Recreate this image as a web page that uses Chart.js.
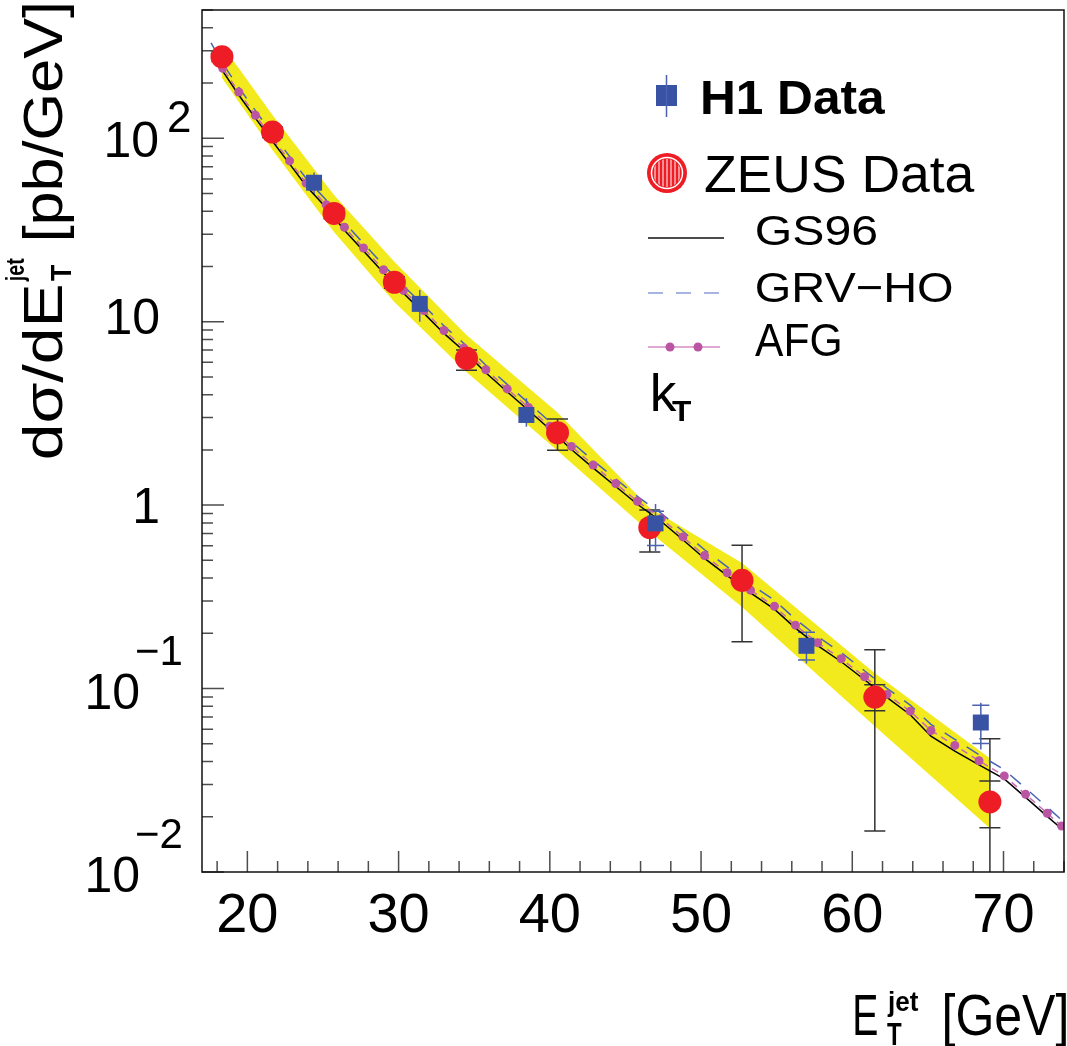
<!DOCTYPE html>
<html>
<head>
<meta charset="utf-8">
<script src="https://cdn.jsdelivr.net/npm/chart.js@4.4.1/dist/chart.umd.min.js"></script>
<style>
  body { margin: 0; background: #fff; }
  #wrap { width: 1067px; height: 1046px; }
</style>
</head>
<body>
<div id="wrap"><canvas id="chart" width="1067" height="1046"></canvas></div>
<script>
const FONT = '"Liberation Sans", Arial, sans-serif';

// ZEUS data (E_T^jet in GeV, dsigma/dE_T in pb/GeV)
const zeusEt = [18.32, 21.66, 25.73, 29.72, 34.49, 40.51, 46.61, 52.71, 61.49, 69.10];
const zeusXs = [278, 108, 38.9, 16.4, 6.31, 2.48, 0.755, 0.389, 0.0899, 0.0241];
const zeusHi = [295, 115, 41.5, 17.6, 7.0, 2.95, 0.94, 0.604, 0.163, 0.0532];
const zeusLo = [262, 101, 36.4, 15.2, 5.44, 1.99, 0.556, 0.1797, 0.01675, 0.004];
const zeusStatHi = [null, null, null, null, null, null, null, null, 0.1048, 0.0313];
const zeusStatLo = [null, null, null, null, null, null, null, null, 0.0756, 0.0174];

// H1 data
const h1Et = [24.41, 31.40, 38.45, 46.99, 56.97, 68.50];
const h1Xs = [57.2, 12.5, 3.10, 0.795, 0.171, 0.0653];
const h1Hi = [65.1, 14.9, 3.82, 1.015, 0.204, 0.0836];
const h1Lo = [49.0, 9.98, 2.67, 0.553, 0.137, 0.0466];
const h1StatHi = [null, null, null, 0.926, 0.203, 0.0811];
const h1StatLo = [null, null, null, 0.603, 0.143, 0.0501];

// yellow uncertainty band, at the ZEUS points
const bandHi = [322, 134, 49.0, 21.2, 8.45, 3.20, 0.963, 0.483, 0.1213, 0.0417];
const bandLo = [213, 86.3, 30.8, 12.8, 5.31, 1.98, 0.713, 0.278, 0.0624, 0.0173];

// kT theory curves
const theoryEt = [17.6, 18.37, 19.43, 20.53, 21.66, 22.79, 23.89, 25.21, 26.42, 27.68,
  29.0, 30.32, 31.68, 33.0, 34.32, 35.77, 37.18, 38.6, 40.0, 41.43,
  42.86, 44.36, 45.79, 47.37, 48.8, 50.23, 51.73, 53.27, 54.85, 56.24,
  57.71, 59.27, 60.81, 62.29, 63.83, 65.2, 66.78, 68.38, 70.05, 71.46,
  72.89, 73.84];
const gs96 = [290, 232, 172, 128.7, 96.2, 72.5, 54.9, 41.8, 31.5, 24.3,
  18.5, 14.3, 11.1, 8.63, 6.92, 5.27, 4.15, 3.28, 2.59, 2.01,
  1.595, 1.263, 1.011, 0.814, 0.647, 0.512, 0.413, 0.332, 0.271, 0.2136,
  0.1712, 0.140, 0.1117, 0.0896, 0.0720, 0.055, 0.0456, 0.0384, 0.0322, 0.0255,
  0.0201, 0.0172];
const grvHo = [331, 255, 189, 141.4, 105.7, 79.6, 60.3, 46.0, 34.6, 26.7,
  20.3, 15.7, 12.2, 9.48, 7.60, 5.79, 4.55, 3.60, 2.85, 2.21,
  1.75, 1.39, 1.115, 0.902, 0.72, 0.571, 0.461, 0.371, 0.303, 0.239,
  0.192, 0.157, 0.125, 0.1003, 0.0813, 0.0638, 0.0529, 0.0436, 0.0361, 0.0286,
  0.0226, 0.0192];
const afg = [300, 240.6, 178.7, 133.5, 99.8, 75.2, 56.9, 43.4, 32.7, 25.2,
  19.2, 14.8, 11.5, 8.95, 7.18, 5.47, 4.30, 3.40, 2.69, 2.09,
  1.655, 1.31, 1.049, 0.844, 0.671, 0.531, 0.428, 0.344, 0.281, 0.2216,
  0.1776, 0.1453, 0.1159, 0.0929, 0.0753, 0.0591, 0.049, 0.0404, 0.0334, 0.0265,
  0.0209, 0.0178];

// axis ticks / labels
const xTickVals = [20, 30, 40, 50, 60, 70];
const yTickVals = [100, 10, 1, 0.1, 0.01];
const yTickBase = ['10', '10', '1', '10', '10'];
const yTickExp = ['2', '', '', '\u22121', '\u22122'];

const RED = '#ee1c25';
const BLUE = '#3953a4';
const YELLOW = '#f2ea1c';

const pts = (xs, ys) => xs.map((x, i) => ({ x: x, y: ys[i] }));

// draws text so that its glyphs span exactly w pixels starting at x
function fitText(ctx, txt, x, y, w, font) {
  ctx.save();
  ctx.font = font;
  ctx.textAlign = 'left';
  ctx.textBaseline = 'alphabetic';
  const m = ctx.measureText(txt);
  const gw = m.actualBoundingBoxLeft + m.actualBoundingBoxRight;
  const s = w / gw;
  ctx.translate(x + m.actualBoundingBoxLeft * s, y);
  ctx.scale(s, 1);
  ctx.fillText(txt, 0, 0);
  ctx.restore();
}

const errorBars = {
  id: 'errorBars',
  beforeDatasetsDraw(chart) {
    const ctx = chart.ctx, a = chart.chartArea;
    const xs = chart.scales.x, ys = chart.scales.y;
    ctx.save();
    ctx.beginPath();
    ctx.rect(a.left, a.top, a.right - a.left, a.bottom - a.top);
    ctx.clip();
    ctx.lineWidth = 1.5;

    const cap = (px, v, hw) => {
      const py = ys.getPixelForValue(v);
      ctx.moveTo(px - hw, py); ctx.lineTo(px + hw, py);
    };

    // ZEUS
    ctx.strokeStyle = '#333';
    ctx.beginPath();
    zeusEt.forEach((e, i) => {
      const px = xs.getPixelForValue(e);
      ctx.moveTo(px, ys.getPixelForValue(zeusHi[i]));
      ctx.lineTo(px, ys.getPixelForValue(zeusLo[i]));
      cap(px, zeusHi[i], 10.5);
      cap(px, zeusLo[i], 10.5);
      if (zeusStatHi[i] !== null) {
        cap(px, zeusStatHi[i], 10.5);
        cap(px, zeusStatLo[i], 10.5);
      }
    });
    ctx.stroke();

    // H1
    ctx.strokeStyle = '#4a62b0';
    ctx.beginPath();
    h1Et.forEach((e, i) => {
      const px = xs.getPixelForValue(e);
      ctx.moveTo(px, ys.getPixelForValue(h1Hi[i]));
      ctx.lineTo(px, ys.getPixelForValue(h1Lo[i]));
      if (h1StatHi[i] !== null) {
        cap(px, h1StatHi[i], 8.5);
        cap(px, h1StatLo[i], 8.5);
      }
    });
    ctx.stroke();
    ctx.restore();
  }
};

const decorations = {
  id: 'decorations',
  afterDatasetsDraw(chart) {
    const ctx = chart.ctx, a = chart.chartArea;
    const xs = chart.scales.x, ys = chart.scales.y;
    ctx.save();

    // inward ticks
    ctx.strokeStyle = '#4d4d4d';
    ctx.lineWidth = 1.5;
    ctx.beginPath();
    for (let v = 18; v <= 74; v += 2) {
      const px = xs.getPixelForValue(v);
      const len = v % 10 === 0 ? 21 : 11;
      ctx.moveTo(px, a.bottom); ctx.lineTo(px, a.bottom - len);
    }
    for (let e = -2; e <= 2; e++) {
      for (let k = 1; k <= 9; k++) {
        const v = k * Math.pow(10, e);
        if (v > 500) continue;
        const py = ys.getPixelForValue(v);
        const len = k === 1 ? 22 : 11;
        ctx.moveTo(a.left, py); ctx.lineTo(a.left + len, py);
      }
    }
    ctx.stroke();

    // frame
    ctx.strokeStyle = '#111';
    ctx.lineWidth = 1.5;
    ctx.strokeRect(a.left, a.top, a.right - a.left, a.bottom - a.top);

    ctx.fillStyle = '#000';

    // x tick labels
    ctx.font = '56px ' + FONT;
    ctx.textAlign = 'center';
    ctx.textBaseline = 'alphabetic';
    xTickVals.forEach(v => ctx.fillText(String(v), xs.getPixelForValue(v), 932));

    // y tick labels
    yTickVals.forEach((v, i) => {
      const py = ys.getPixelForValue(v);
      const exp = yTickExp[i];
      ctx.font = '50px ' + FONT;
      ctx.textAlign = 'right';
      if (!exp) {
        const dy = yTickBase[i] === '1' ? 18 : 12;
        ctx.fillText(yTickBase[i], 160, py + dy);
      } else if (exp[0] === '\u2212') {
        ctx.fillText(yTickBase[i], 140, py + 20);
        ctx.font = '42px ' + FONT;
        ctx.textAlign = 'left';
        ctx.fillText(exp, 135, py - 24);
      } else {
        ctx.fillText(yTickBase[i], 159, py + 19);
        ctx.font = '44px ' + FONT;
        ctx.textAlign = 'left';
        ctx.fillText(exp, 167, py - 6);
      }
    });

    // y axis title (rotated)
    ctx.save();
    ctx.translate(62, 458);
    ctx.rotate(-Math.PI / 2);
    fitText(ctx, 'd\u03c3/dE', 0, 0, 172, '56px ' + FONT);
    fitText(ctx, 'T', 177, 9, 16, 'bold 30px ' + FONT);
    fitText(ctx, 'jet', 176, -38, 24, 'bold 26px ' + FONT);
    fitText(ctx, '[pb/GeV]', 220, 0, 233, '56px ' + FONT);
    ctx.restore();

    // x axis title
    fitText(ctx, 'E', 855, 1035, 22, '57px ' + FONT);
    fitText(ctx, 'jet', 887, 1011, 31, 'bold 28px ' + FONT);
    fitText(ctx, 'T', 887, 1045, 15, 'bold 32px ' + FONT);
    fitText(ctx, '[GeV]', 945, 1035, 121, '57px ' + FONT);

    // legend: H1
    ctx.fillStyle = BLUE;
    ctx.fillRect(656, 85, 21, 21);
    ctx.strokeStyle = '#4a62b0';
    ctx.lineWidth = 1.5;
    ctx.beginPath(); ctx.moveTo(666.5, 75); ctx.lineTo(666.5, 117); ctx.stroke();
    ctx.fillStyle = '#000';
    fitText(ctx, 'H1 Data', 703, 114, 182, 'bold 48px ' + FONT);

    // legend: ZEUS (hatched disc)
    ctx.fillStyle = RED;
    ctx.beginPath(); ctx.arc(667, 173, 20, 0, 2 * Math.PI); ctx.fill();
    ctx.strokeStyle = '#fff';
    ctx.lineWidth = 1.5;
    ctx.beginPath(); ctx.arc(667, 173, 15.5, 0, 2 * Math.PI); ctx.stroke();
    ctx.save();
    ctx.beginPath(); ctx.arc(667, 173, 14, 0, 2 * Math.PI); ctx.clip();
    ctx.lineWidth = 1;
    ctx.beginPath();
    for (let hx = 655; hx <= 680; hx += 4) { ctx.moveTo(hx, 155); ctx.lineTo(hx, 191); }
    ctx.stroke();
    ctx.restore();
    ctx.fillStyle = '#000';
    fitText(ctx, 'ZEUS Data', 705, 192, 270, '51px ' + FONT);

    // legend: curves
    ctx.lineWidth = 1.5;
    ctx.strokeStyle = '#111';
    ctx.beginPath(); ctx.moveTo(648, 238); ctx.lineTo(724, 238); ctx.stroke();
    fitText(ctx, 'GS96', 757, 245, 120, '43px ' + FONT);

    ctx.strokeStyle = '#8a9ad6';
    ctx.setLineDash([15, 13]);
    ctx.beginPath(); ctx.moveTo(648, 293); ctx.lineTo(722, 293); ctx.stroke();
    ctx.setLineDash([]);
    fitText(ctx, 'GRV\u2212HO', 757, 302, 195, '43px ' + FONT);

    ctx.strokeStyle = '#d58cc4';
    ctx.beginPath(); ctx.moveTo(648, 347); ctx.lineTo(720, 347); ctx.stroke();
    ctx.fillStyle = '#b955a3';
    [670, 698].forEach(cx => { ctx.beginPath(); ctx.arc(cx, 347, 4.5, 0, 2 * Math.PI); ctx.fill(); });
    ctx.fillStyle = '#000';
    fitText(ctx, 'AFG', 755, 356, 85, '46px ' + FONT);

    fitText(ctx, 'k', 653, 411, 24, '51px ' + FONT);
    fitText(ctx, 'T', 672, 421, 19, 'bold 30px ' + FONT);

    ctx.restore();
  }
};

const ctx = document.getElementById('chart').getContext('2d');
new Chart(ctx, {
  type: 'line',
  data: {
    datasets: [
      {
        label: 'H1 Data',
        data: pts(h1Et, h1Xs),
        showLine: false,
        pointStyle: 'rect',
        pointRadius: 11.3,
        pointBackgroundColor: BLUE,
        pointBorderWidth: 0,
        order: 0
      },
      {
        label: 'ZEUS Data',
        data: pts(zeusEt, zeusXs),
        showLine: false,
        pointStyle: 'circle',
        pointRadius: 11.5,
        pointBackgroundColor: RED,
        pointBorderWidth: 0,
        order: 0
      },
      {
        label: 'AFG',
        data: pts(theoryEt, afg),
        borderColor: '#c86bb0',
        borderWidth: 1.5,
        borderDash: [7, 5],
        pointRadius: c => (c.dataIndex === 0 ? 0 : 4.5),
        pointBackgroundColor: '#b955a3',
        pointBorderWidth: 0,
        fill: false,
        order: 1
      },
      {
        label: 'GRV-HO',
        data: pts(theoryEt, grvHo),
        borderColor: '#4a62b5',
        borderWidth: 1.5,
        borderDash: [14, 12],
        pointRadius: 0,
        fill: false,
        order: 2
      },
      {
        label: 'GS96',
        data: pts(theoryEt, gs96),
        borderColor: '#000',
        borderWidth: 1.5,
        pointRadius: 0,
        fill: false,
        order: 2
      },
      {
        label: 'band high',
        data: pts(zeusEt, bandHi),
        borderWidth: 0,
        borderColor: 'rgba(0,0,0,0)',
        pointRadius: 0,
        fill: false,
        order: 3
      },
      {
        label: 'band low',
        data: pts(zeusEt, bandLo),
        borderWidth: 0,
        borderColor: 'rgba(0,0,0,0)',
        backgroundColor: YELLOW,
        pointRadius: 0,
        fill: '-1',
        order: 3
      }
    ]
  },
  options: {
    responsive: false,
    devicePixelRatio: 1,
    animation: false,
    layout: { padding: { left: 0, top: 10, right: 3, bottom: 0 }, autoPadding: false },
    plugins: {
      legend: { display: false },
      tooltip: { enabled: false },
      filler: { drawTime: 'beforeDatasetsDraw' }
    },
    scales: {
      x: {
        type: 'linear',
        min: 17,
        max: 74,
        ticks: { display: false },
        grid: { display: false },
        border: { display: false },
        afterFit: s => { s.height = 174; }
      },
      y: {
        type: 'logarithmic',
        min: 0.01,
        max: 500,
        ticks: { display: false },
        grid: { display: false },
        border: { display: false },
        afterFit: s => { s.width = 202; }
      }
    }
  },
  plugins: [errorBars, decorations]
});
</script>
</body>
</html>
